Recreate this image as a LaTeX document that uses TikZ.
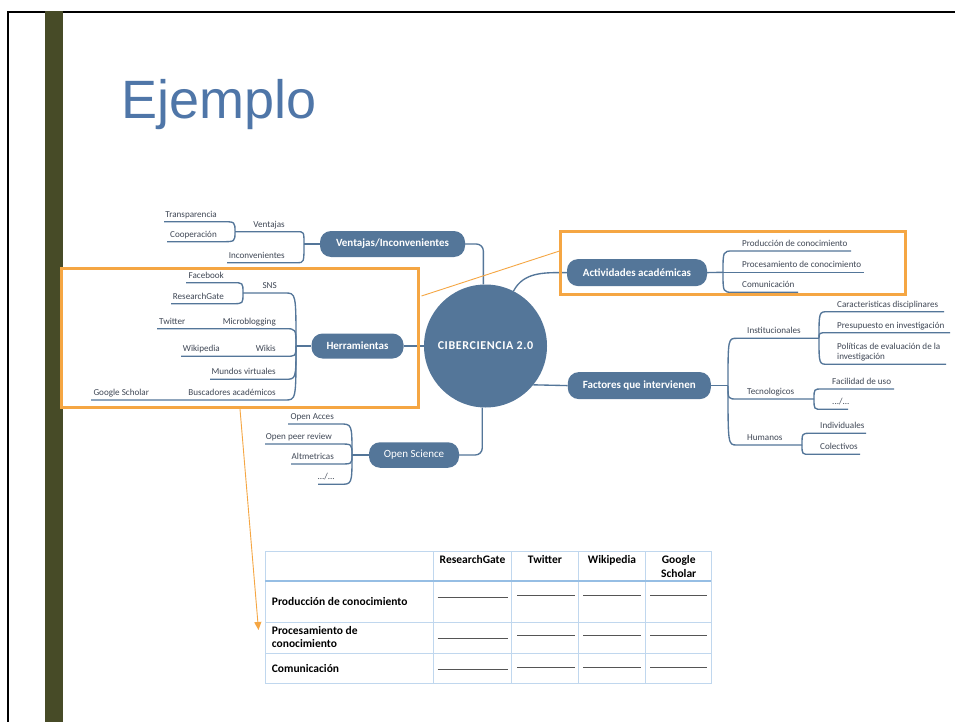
\documentclass[tikz,border=0pt]{standalone}
\usepackage{fontspec}
\setmainfont{Carlito}
\newfontfamily\titlefont{Liberation Sans}
\newfontfamily\spacedfont[LetterSpace=5]{Carlito}
\usetikzlibrary{arrows.meta}
\definecolor{mmblue}{RGB}{84,118,153}
\definecolor{leafcol}{RGB}{64,72,86}
\definecolor{orbox}{RGB}{245,166,67}
\definecolor{olive}{RGB}{71,75,39}
\definecolor{titleblue}{RGB}{79,118,168}
\definecolor{tblcol}{RGB}{192,215,238}
\definecolor{tblhcol}{RGB}{150,190,228}
\definecolor{blankcol}{RGB}{85,85,85}
% left leaf: name, text, text right x, underline y, underline left x, underline right x, joint
\newcommand\lbranch[7]{%
  \node[leaf, anchor=base east] (#1) at (#3,#4-4.6) {#2};
  \coordinate (#1a) at (#5,#4);
  \coordinate (#1b) at (#6,#4);
  \draw[conn] (#1a) -- (#1b) .. controls (#7 |- #1b) .. (#7);
}
% right leaf: name, text, text left x, underline y, underline left x, underline right x, joint
\newcommand\rbranch[7]{%
  \node[leaf, anchor=base west] (#1) at (#3,#4-4.6) {#2};
  \coordinate (#1a) at (#5,#4);
  \coordinate (#1b) at (#6,#4);
  \draw[conn] (#7) .. controls (#7 |- #1a) .. (#1a) -- (#1b);
}
\begin{document}
\begin{tikzpicture}[x=1pt,y=-1pt,
  conn/.style={draw=mmblue, line width=1.35pt},
  leaf/.style={inner sep=0pt, text=leafcol, font=\fontsize{9.1}{10.5}\selectfont},
  topic/.style={fill=mmblue, rounded corners=11pt, text=white, inner sep=0pt,
                font=\bfseries\fontsize{11}{13}\selectfont},
  frame/.style={draw=orbox, line width=3pt, inner sep=0pt},
  orthin/.style={draw=orbox, line width=0.9pt},
  tbl/.style={draw=tblcol, line width=1pt},
  tblh/.style={draw=tblhcol, line width=1.6pt},
  cell/.style={inner sep=0pt, font=\bfseries\fontsize{11.5}{13.4}\selectfont},
  blank/.style={draw=blankcol, line width=1.1pt}]
\useasboundingbox (0,0) rectangle (955,722);
% slide frame
\fill[white] (0,0) rectangle (955,722);
\draw[line width=2.2pt] (8.3,730) -- (8.3,11.7) -- (965,11.7);
\fill[olive] (45,10.6) rectangle (62.7,722);
\node[anchor=base west, inner sep=0pt, text=titleblue,
      font=\titlefont\fontsize{54}{60}\selectfont] (title) at (121,118.3) {Ejemplo};

% central topic
\node[circle, fill=mmblue, minimum size=123pt, inner sep=0pt, text=white,
      font=\spacedfont\bfseries\fontsize{12}{14}\selectfont] (C) at (485.5,346) {CIBERCIENCIA 2.0};

% main topics
\node[topic, minimum width=145pt, minimum height=26pt] (VI) at (392.5,244) {Ventajas/Inconvenientes};
\node[topic, minimum width=92pt, minimum height=25pt] (H) at (357.5,346) {Herramientas};
\node[topic, minimum width=90pt, minimum height=25.5pt, font=\fontsize{11}{13}\selectfont] (OS) at (414,455) {Open Science};
\node[topic, minimum width=140pt, minimum height=27pt] (A) at (637,272.6) {Actividades académicas};
\node[topic, minimum width=143pt, minimum height=27pt] (F) at (639.3,385.6) {Factores que intervienen};

\draw[conn, rounded corners=7pt] (VI.east) -| (C.92);
\draw[conn, rounded corners=7pt] (OS.east) -| (C.-93);
\draw[conn] (H.east) -- (C.west);
\draw[conn] (C.63) to[out=62,in=180] (A.west);
\draw[conn] (C.-39) -- (F.west);

% joints
\coordinate (J1) at (304,244);
\coordinate (J2) at (235,231.7);
\coordinate (J3) at (296,346);
\coordinate (J4) at (243,293);
\coordinate (J5) at (352,455);
\coordinate (J6) at (723,272.3);
\coordinate (J7) at (728,385.6);
\coordinate (J8) at (819,338.3);
\coordinate (J9) at (814,399);
\coordinate (J10) at (802,445);
\draw[conn] (J1) -- (VI.west);
\draw[conn] (J3) -- (H.west);
\draw[conn] (J5) -- (OS.west);
\draw[conn] (A.east) -- (J6);
\draw[conn] (F.east) -- (J7);

% Ventajas / Inconvenientes
\lbranch{vent}{Ventajas}{285}{231.7}{235}{297}{J1}
\lbranch{inco}{Inconvenientes}{285}{262.7}{227}{297}{J1}
\lbranch{tran}{Transparencia}{217}{221.7}{164}{222}{J2}
\lbranch{coop}{Cooperación}{217}{241.7}{167}{222}{J2}

% Herramientas
\lbranch{sns}{SNS}{277}{293}{243}{285}{J3}
\lbranch{micro}{Microblogging}{276}{328.7}{157}{285}{J3}
\lbranch{wikis}{Wikis}{276}{356.3}{181}{285}{J3}
\lbranch{mundos}{Mundos virtuales}{276}{379.3}{210}{285}{J3}
\lbranch{busc}{Buscadores académicos}{276}{400}{91}{285}{J3}
\lbranch{face}{Facebook}{224}{282.7}{186}{233}{J4}
\lbranch{rgate}{ResearchGate}{224}{303.7}{171}{233}{J4}
\node[leaf, anchor=base west] (twit) at (159,324) {Twitter};
\node[leaf, anchor=base west] (wikip) at (182.7,351.8) {Wikipedia};
\node[leaf, anchor=base west] (gsch) at (93.3,395.4) {Google Scholar};

% Open Science
\lbranch{oacc}{Open Acces}{334}{424}{288}{340}{J5}
\lbranch{opeer}{Open peer review}{332}{444}{265}{340}{J5}
\lbranch{altm}{Altmetricas}{334}{464}{291}{340}{J5}
\lbranch{osdots}{.../...}{335}{484.3}{318}{340}{J5}

% Actividades academicas
\rbranch{prod}{Producción de conocimiento}{742}{251}{733}{851}{J6}
\rbranch{proc}{Procesamiento de conocimiento}{742}{272.3}{733}{864}{J6}
\rbranch{comu}{Comunicación}{742}{292.3}{733}{798}{J6}

% Factores
\rbranch{inst}{Institucionales}{747}{338.3}{737}{819}{J7}
\rbranch{tecn}{Tecnologicos}{747}{399}{737}{814}{J7}
\rbranch{huma}{Humanos}{747}{445}{737}{802}{J7}
\rbranch{cara}{Caracteristicas disciplinares}{837}{311.7}{828}{944}{J8}
\rbranch{pres}{Presupuesto en investigación}{837}{332.7}{828}{950}{J8}
\node[leaf, anchor=base west] (poli) at (837,349)
  {\begin{tabular}[t]{@{}l@{}}Políticas de evaluación de la\\investigación\end{tabular}};
\coordinate (polia) at (828,364.3);
\coordinate (polib) at (946,364.3);
\draw[conn] (J8) .. controls (J8 |- polia) .. (polia) -- (polib);
\rbranch{faci}{Facilidad de uso}{832}{389}{822}{894}{J9}
\rbranch{tdots}{.../...}{832}{409.3}{822}{848}{J9}
\rbranch{indi}{Individuales}{820}{433.3}{810}{866}{J10}
\rbranch{cole}{Colectivos}{820}{454.3}{810}{860}{J10}

% orange highlight frames
\node[frame, minimum width=357pt, minimum height=139pt] (hframe) at (240,338) {};
\node[frame, minimum width=345pt, minimum height=63pt] (aframe) at (733,263) {};
\coordinate (hfa) at (421.5,296);
\coordinate (afa) at (559.5,251);
\draw[orthin] (hfa) -- (afa);
\coordinate (tip) at (258.5,630);
\draw[orthin, -{Triangle[width=7pt,length=8pt]}] (hframe.south) -- (tip);

% table
\draw[tbl] (265,551.7) rectangle (711,683.3);
\foreach \x in {433.3,511.7,578.3,645.7} \draw[tbl] (\x,551.7) -- (\x,683.3);
\draw[tbl] (265,622.3) -- (711,622.3);
\draw[tbl] (265,653.3) -- (711,653.3);
\draw[tblh] (265,580.7) -- (711,580.7);
\node[cell, anchor=base] (hRG) at (472.5,563.3) {ResearchGate};
\node[cell, anchor=base] (hTW) at (545,563.3) {Twitter};
\node[cell, anchor=base] (hWK) at (612,563.3) {Wikipedia};
\node[cell, anchor=base, font=\bfseries\fontsize{11.5}{14.4}\selectfont] (hGS) at (678.7,563.3)
  {\begin{tabular}[t]{@{}c@{}}Google\\Scholar\end{tabular}};
\node[cell, anchor=base west] (rProd) at (271.7,605) {Producción de conocimiento};
\node[cell, anchor=base west] (rProc) at (271.7,634.3)
  {\begin{tabular}[t]{@{}l@{}}Procesamiento de\\conocimiento\end{tabular}};
\node[cell, anchor=base west] (rComu) at (271.7,672.7) {Comunicación};
\foreach \y in {597.7,638.3,669.3} \draw[blank] (437.7,\y) -- (508.3,\y);
\foreach \y in {595.7,635.7,667.7} {
  \draw[blank] (517.3,\y) -- (575,\y);
  \draw[blank] (583.3,\y) -- (640.7,\y);
  \draw[blank] (650,\y) -- (707.3,\y);
}
\end{tikzpicture}
\end{document}
